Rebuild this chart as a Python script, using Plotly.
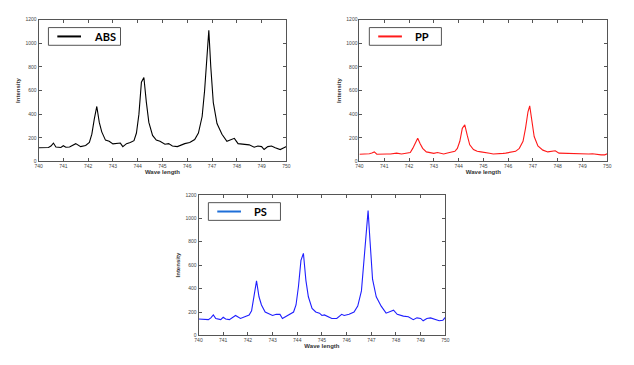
import plotly.graph_objects as go

wavelength = [740.0, 740.2, 740.4, 740.5, 740.6, 740.7, 740.9, 741.0, 741.1, 741.25, 741.5, 741.7, 741.9,
              742.05, 742.15, 742.25, 742.35, 742.45, 742.55, 742.7, 742.85, 743.0, 743.15, 743.3, 743.4,
              743.55, 743.7, 743.85, 743.95, 744.05, 744.15, 744.25, 744.35, 744.45, 744.6, 744.75, 744.9,
              745.0, 745.1, 745.25, 745.4, 745.6, 745.8, 745.9, 746.1, 746.3, 746.45, 746.6, 746.7, 746.8,
              746.87, 746.95, 747.05, 747.2, 747.4, 747.6, 747.75, 747.9, 748.05, 748.3, 748.5, 748.7, 748.85,
              749.0, 749.1, 749.25, 749.4, 749.55, 749.75, 749.9, 750.0]

abs_vals = [115, 115, 118, 130, 155, 122, 118, 132, 120, 122, 150, 125, 135,
            160, 230, 360, 465, 330, 250, 180, 170, 148, 152, 155, 125,
            150, 160, 175, 240, 400, 670, 710, 500, 330, 220, 180, 170,
            160, 145, 150, 130, 125, 145, 150, 160, 185, 240, 380, 600, 950,
            1110, 800, 500, 320, 230, 170, 180, 195, 150, 145, 140, 120, 130,
            125, 100, 125, 130, 115, 100, 115, 125]

pp_vals = [60, 60, 65, 70, 80, 60, 58, 62, 62, 62, 70, 62, 68,
           75, 110, 160, 195, 150, 110, 80, 75, 68, 75, 65, 62,
           70, 75, 85, 110, 170, 280, 310, 220, 140, 100, 85, 80,
           75, 70, 68, 62, 62, 68, 70, 75, 85, 110, 170, 280, 420,
           470, 360, 210, 130, 95, 80, 82, 90, 70, 68, 65, 62, 62,
           62, 60, 62, 65, 60, 55, 55, 65]

ps_vals = [140, 140, 135, 150, 175, 145, 135, 155, 140, 135, 170, 145, 160,
           175, 210, 330, 465, 330, 260, 200, 185, 170, 180, 180, 145,
           165, 180, 200, 260, 420, 640, 700, 470, 330, 230, 200, 190,
           170, 175, 160, 145, 145, 180, 170, 180, 200, 250, 380, 620, 900,
           1065, 800, 480, 330, 250, 190, 200, 215, 180, 165, 160, 135, 150,
           145, 125, 145, 150, 140, 125, 130, 155]

series_names = ["ABS", "PP", "PS"]
series_colors = ["#000000", "#ff1a1a", "#1f1fff"]
legend_line_colors = ["#000000", "#ff1a1a", "#1f6fd8"]
x_ticks = [740, 741, 742, 743, 744, 745, 746, 747, 748, 749, 750]
y_ticks = [0, 200, 400, 600, 800, 1000, 1200]

W, H = 634, 365
# panel pixel boxes: left, right, top, bottom
boxes = [(35, 286, 17, 161), (360, 611, 17, 161), (197, 447, 195, 338)]

fig = go.Figure()
data = [abs_vals, pp_vals, ps_vals]
shapes = []
annotations = []
for i, (vals, name, col) in enumerate(zip(data, series_names, series_colors)):
    xa = "x" if i == 0 else f"x{i+1}"
    ya = "y" if i == 0 else f"y{i+1}"
    fig.add_trace(go.Scatter(x=wavelength, y=vals, mode="lines", name=name,
                             line=dict(color=col, width=1.1), xaxis=xa, yaxis=ya,
                             showlegend=False))
    l, r, t, b = boxes[i]
    key = "" if i == 0 else str(i + 1)
    axis_common = dict(showline=True, linecolor="#555555", linewidth=1, mirror="ticks",
                       ticks="inside", ticklen=3, tickcolor="#555555", showgrid=False,
                       zeroline=False, tickfont=dict(size=5, color="#444444", family="Arial"))
    fig.update_layout(**{
        f"xaxis{key}": dict(domain=[l / W, r / W], anchor=ya, range=[740, 750],
                            tickvals=x_ticks, ticktext=[str(v) for v in x_ticks],
                            title=dict(text="<b>Wave length</b>", font=dict(size=6, family="Arial", color="#333333"),
                                       standoff=1),
                            **axis_common),
        f"yaxis{key}": dict(domain=[1 - b / H, 1 - t / H], anchor=xa, range=[0, 1200],
                            tickvals=y_ticks, ticktext=[str(v) for v in y_ticks],
                            title=dict(text="<b>Intensity</b>", font=dict(size=6, family="Arial", color="#333333"),
                                       standoff=4),
                            **axis_common),
    })
    # legend box
    bx0, bx1 = l + 10, l + 83
    by0, by1 = t + 8, t + 26
    shapes.append(dict(type="rect", xref="paper", yref="paper",
                       x0=bx0 / W, x1=bx1 / W, y0=1 - by1 / H, y1=1 - by0 / H,
                       line=dict(color="#555555", width=1), fillcolor="white"))
    ym = (by0 + by1) / 2
    shapes.append(dict(type="line", xref="paper", yref="paper",
                       x0=(bx0 + 9) / W, x1=(bx0 + 33) / W, y0=1 - ym / H, y1=1 - ym / H,
                       line=dict(color=legend_line_colors[i], width=2)))
    annotations.append(dict(xref="paper", yref="paper", x=(bx0 + 44) / W, y=1 - ym / H,
                            text=f"<b>{name}</b>", showarrow=False, xanchor="left", yanchor="middle",
                            font=dict(size=11, family="Lato", color="#000000")))

fig.update_layout(width=W, height=H, margin=dict(l=0, r=0, t=0, b=0),
                  paper_bgcolor="white", plot_bgcolor="white",
                  shapes=shapes, annotations=annotations)
fig.write_html("out.html", config={"displayModeBar": False},
               post_script="document.body.style.margin='0';document.body.style.padding='0';document.body.style.overflow='hidden';")
